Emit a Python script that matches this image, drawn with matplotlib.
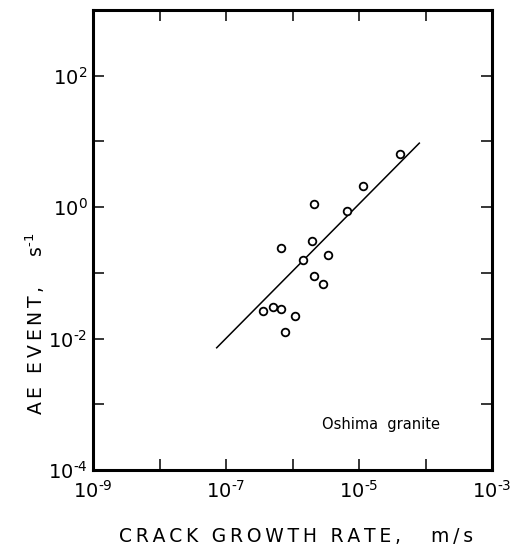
import numpy as np
import matplotlib
matplotlib.use("Agg")
import matplotlib.pyplot as plt
from matplotlib.ticker import FuncFormatter, NullFormatter, FixedLocator

# Data
crack_rate = [10**-4.383, 10**-4.944, 10**-5.681, 10**-5.18, 10**-5.707, 10**-6.173,
              10**-5.466, 10**-5.847, 10**-5.672, 10**-5.546, 10**-6.448, 10**-6.293,
              10**-6.168, 10**-5.967, 10**-6.113]
ae_event = [10**0.803, 10**0.318, 10**0.05, 10**-0.061, 10**-0.52, 10**-0.626,
            10**-0.727, 10**-0.803, 10**-1.05, 10**-1.167, 10**-1.576, 10**-1.515,
            10**-1.55, 10**-1.652, 10**-1.898]
fit_x = [10**-7.14, 10**-4.093]
fit_y = [10**-2.14, 10**0.974]

x_major = [1e-9, 1e-7, 1e-5, 1e-3]
y_major = [1e-4, 1e-2, 1e0, 1e2]
x_minor = [1e-8, 1e-6, 1e-4]
y_minor = [1e-3, 1e-1, 1e1]

plt.rcParams['font.family'] = ['DejaVu Sans']


def spaced(s):
    return '\u2009'.join(s)


def pow_label(v, pos=None):
    e = int(round(np.log10(v)))
    s = str(abs(e))
    if e < 0:
        s = '\u2010' + s
    return '$\\mathdefault{10^{' + s + '}}$'


fig = plt.figure(figsize=(5.12, 5.5), dpi=100)
ax = fig.add_axes([93/512, 80/550, 399/512, 460/550])

ax.plot(fit_x, fit_y, color='black', lw=1.1)
ax.plot(crack_rate, ae_event, linestyle='none', marker='o', markersize=5.5,
        markerfacecolor='white', markeredgecolor='black', markeredgewidth=1.3)

ax.set_xscale('log')
ax.set_yscale('log')
ax.set_xlim(1e-9, 1e-3)
ax.set_ylim(1e-4, 1e3)

ax.xaxis.set_major_locator(FixedLocator(x_major))
ax.yaxis.set_major_locator(FixedLocator(y_major))
ax.xaxis.set_major_formatter(FuncFormatter(pow_label))
ax.yaxis.set_major_formatter(FuncFormatter(pow_label))
ax.xaxis.set_minor_locator(FixedLocator(x_minor))
ax.yaxis.set_minor_locator(FixedLocator(y_minor))
ax.xaxis.set_minor_formatter(NullFormatter())
ax.yaxis.set_minor_formatter(NullFormatter())

ax.tick_params(which='both', direction='in', length=8, width=1.1,
               top=True, right=True, labelsize=14)
ax.tick_params(axis='x', which='major', pad=7)
ax.tick_params(axis='y', which='major', pad=4)

for s in ax.spines.values():
    s.set_linewidth(2.2)

xl = ax.set_xlabel(spaced('CRACK GROWTH RATE,') + '     ' + spaced('m/s'), fontsize=13.5)
xl.set_va('center')
ax.xaxis.set_label_coords(0.509, -0.145)
yl = ax.set_ylabel(spaced('AE EVENT,') + '     s$^{\u20101}$', fontsize=13.5)
yl.set_va('center')
ax.yaxis.set_label_coords(-0.145, 0.317)

ax.text(0.723, 0.10, 'Oshima  granite', transform=ax.transAxes,
        ha='center', va='center', fontsize=10.5)

fig.savefig('out.png', dpi=100)
